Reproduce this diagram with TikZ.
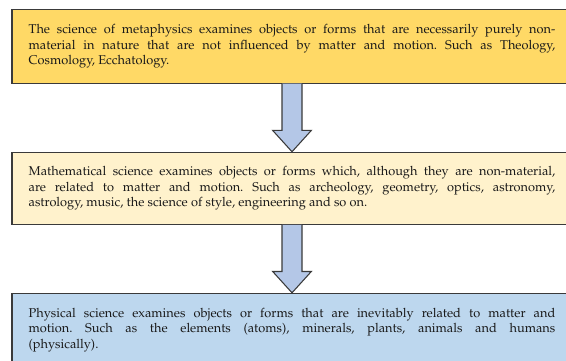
\documentclass[tikz,border=0pt]{standalone}
\usepackage[T1]{fontenc}
\usepackage{mathpazo}
\usepackage{tikz}
\usetikzlibrary{positioning, calc, shadows}
\definecolor{metafill}{HTML}{FFD966}
\definecolor{mathfill}{HTML}{FFF2CC}
\definecolor{physfill}{HTML}{BDD7EE}
\definecolor{arrowfill}{HTML}{B4C7E7}
\definecolor{edgegray}{HTML}{3A3A3A}
\frenchspacing

\begin{document}
\begin{tikzpicture}[
    textbox/.style={rectangle, draw=edgegray, line width=0.8pt, minimum width=420pt, minimum height=55pt,
        text width=395pt, align=justify, inner sep=0pt, font=\fontsize{9.6}{11.7}\selectfont, text=black!90,
        drop shadow={shadow xshift=0.6pt, shadow yshift=-0.9pt, opacity=0.35}},
    blockarrow/.style={draw=edgegray, line width=0.8pt, fill=arrowfill, line join=miter}
]
\useasboundingbox (0,0) rectangle (424.5pt,-270pt);

% Boxes
\node[textbox, fill=metafill] (meta) at (219pt,-34.9pt) {The science of metaphysics examines objects or forms that are necessarily purely non-\linebreak material in nature that are not influenced by matter and motion. Such as Theology,\linebreak Cosmology, Ecchatology.};
\node[textbox, fill=mathfill, below=51pt of meta, minimum height=54pt] (math) {Mathematical science examines objects or forms which, although they are non-material,\linebreak are related to matter and motion. Such as archeology, geometry, optics, astronomy,\linebreak astrology, music, the science of style, engineering and so on.};
\node[textbox, fill=physfill, below=51pt of math] (phys) {Physical science examines objects or forms that are inevitably related to matter and\linebreak motion. Such as the elements (atoms), minerals, plants, animals and humans\linebreak (physically).};

% Block arrows
\draw[blockarrow] ($(meta.south)+(-7.5pt,0)$) -- ($(math.north)+(-7.5pt,16pt)$) -- ($(math.north)+(-14.5pt,16pt)$)
    -- (math.north) -- ($(math.north)+(14.5pt,16pt)$) -- ($(math.north)+(7.5pt,16pt)$) -- ($(meta.south)+(7.5pt,0)$);
\draw[blockarrow] ($(math.south)+(-7.5pt,0)$) -- ($(phys.north)+(-7.5pt,16pt)$) -- ($(phys.north)+(-14.5pt,16pt)$)
    -- (phys.north) -- ($(phys.north)+(14.5pt,16pt)$) -- ($(phys.north)+(7.5pt,16pt)$) -- ($(math.south)+(7.5pt,0)$);

\end{tikzpicture}
\end{document}
